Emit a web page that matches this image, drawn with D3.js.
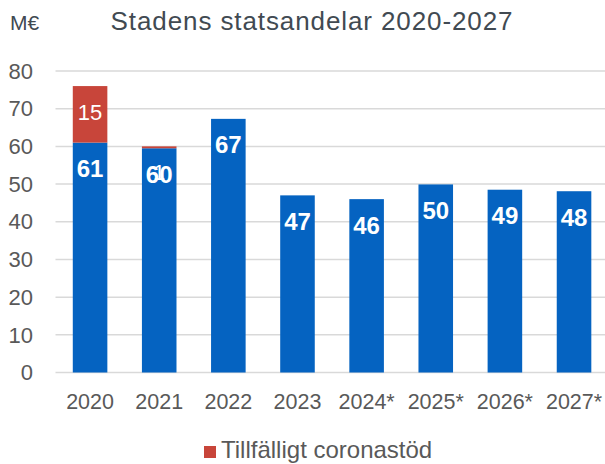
<!DOCTYPE html>
<html lang="sv">
  <head>
    <meta charset="UTF-8" />
    <title>Stadens statsandelar</title>
    <style>
      body { margin: 0; background: #fff; }
      svg { display: block; font-family: "Liberation Sans", Arial, sans-serif; }
    </style>
  </head>
  <body>
    <svg id="svg" width="605" height="464"></svg>

    <script src="https://cdn.jsdelivr.net/npm/d3@7"></script>
    <script>
      // data
      const years = ["2020", "2021", "2022", "2023", "2024*", "2025*", "2026*", "2027*"];
      const base = [61, 59.5, 67.3, 47, 46, 49.9, 48.5, 48.1];
      const corona = [15, 0.5, 0, 0, 0, 0, 0, 0];
      const yTicks = [0, 10, 20, 30, 40, 50, 60, 70, 80];

      const blue = "#0563c1";
      const red = "#c8453a";

      const svg = d3.select("#svg");

      const x = d3.scaleBand().domain(years).range([55.5, 608.6]).paddingInner(0.5).paddingOuter(0.25);
      const y = d3.scaleLinear().domain([0, 80]).range([372.5, 71]);

      // gridlines
      svg.append("g")
        .selectAll("line")
        .data(yTicks)
        .enter()
        .append("line")
        .attr("x1", 55.5)
        .attr("x2", 605)
        .attr("y1", (d) => y(d))
        .attr("y2", (d) => y(d))
        .attr("stroke", "#d9d9d9")
        .attr("stroke-width", 1.5);

      // y tick labels
      svg.append("g")
        .selectAll("text")
        .data(yTicks)
        .enter()
        .append("text")
        .attr("x", 33)
        .attr("y", (d) => y(d))
        .attr("dy", "0.35em")
        .attr("text-anchor", "end")
        .attr("font-size", 22)
        .attr("fill", "#595959")
        .text((d) => d);

      // x labels
      svg.append("g")
        .selectAll("text")
        .data(years)
        .enter()
        .append("text")
        .attr("x", (d) => x(d) + x.bandwidth() / 2)
        .attr("y", 409)
        .attr("text-anchor", "middle")
        .attr("font-size", 21.5)
        .attr("fill", "#595959")
        .text((d) => d);

      const rows = years.map((yr, i) => ({ yr, b: base[i], c: corona[i] }));

      // blue bars
      svg.append("g")
        .selectAll("rect")
        .data(rows)
        .enter()
        .append("rect")
        .attr("x", (d) => x(d.yr))
        .attr("width", x.bandwidth())
        .attr("y", (d) => y(d.b))
        .attr("height", (d) => y(0) - y(d.b))
        .attr("fill", blue);

      // red stacked
      svg.append("g")
        .selectAll("rect")
        .data(rows.filter((d) => d.c > 0))
        .enter()
        .append("rect")
        .attr("x", (d) => x(d.yr))
        .attr("width", x.bandwidth())
        .attr("y", (d) => y(d.b + d.c))
        .attr("height", (d) => y(d.b) - y(d.b + d.c))
        .attr("fill", red);

      // labels, inside end
      svg.append("g")
        .selectAll("text")
        .data(rows)
        .enter()
        .append("text")
        .attr("x", (d) => x(d.yr) + x.bandwidth() / 2)
        .attr("y", (d) => y(d.b) + 26)
        .attr("dy", "0.35em")
        .attr("text-anchor", "middle")
        .attr("font-size", 24)
        .attr("font-weight", "bold")
        .attr("fill", "#fff")
        .text((d) => Math.round(d.b));

      svg.append("g")
        .selectAll("text")
        .data(rows.filter((d) => d.c > 0))
        .enter()
        .append("text")
        .attr("x", (d) => x(d.yr) + x.bandwidth() / 2)
        .attr("y", (d) => y(d.b + d.c) + 26)
        .attr("dy", "0.35em")
        .attr("text-anchor", "middle")
        .attr("font-size", 22)
        .attr("fill", "#fff")
        .text((d) => Math.round(d.c));

      // title + unit
      svg.append("text")
        .attr("x", 312)
        .attr("y", 30)
        .attr("text-anchor", "middle")
        .attr("font-size", 26)
        .attr("letter-spacing", 0.9)
        .attr("fill", "#414a52")
        .text("Stadens statsandelar 2020-2027");

      svg.append("text")
        .attr("x", 10)
        .attr("y", 30)
        .attr("font-size", 21)
        .attr("fill", "#414a52")
        .text("M€");

      // legend
      const lg = svg.append("g");
      lg.append("rect").attr("x", 204).attr("y", 446).attr("width", 12).attr("height", 12).attr("fill", red);
      lg.append("text")
        .attr("x", 221)
        .attr("y", 458)
        .attr("font-size", 24)
        .attr("fill", "#595959")
        .text("Tillfälligt coronastöd");
    </script>
  </body>
</html>
